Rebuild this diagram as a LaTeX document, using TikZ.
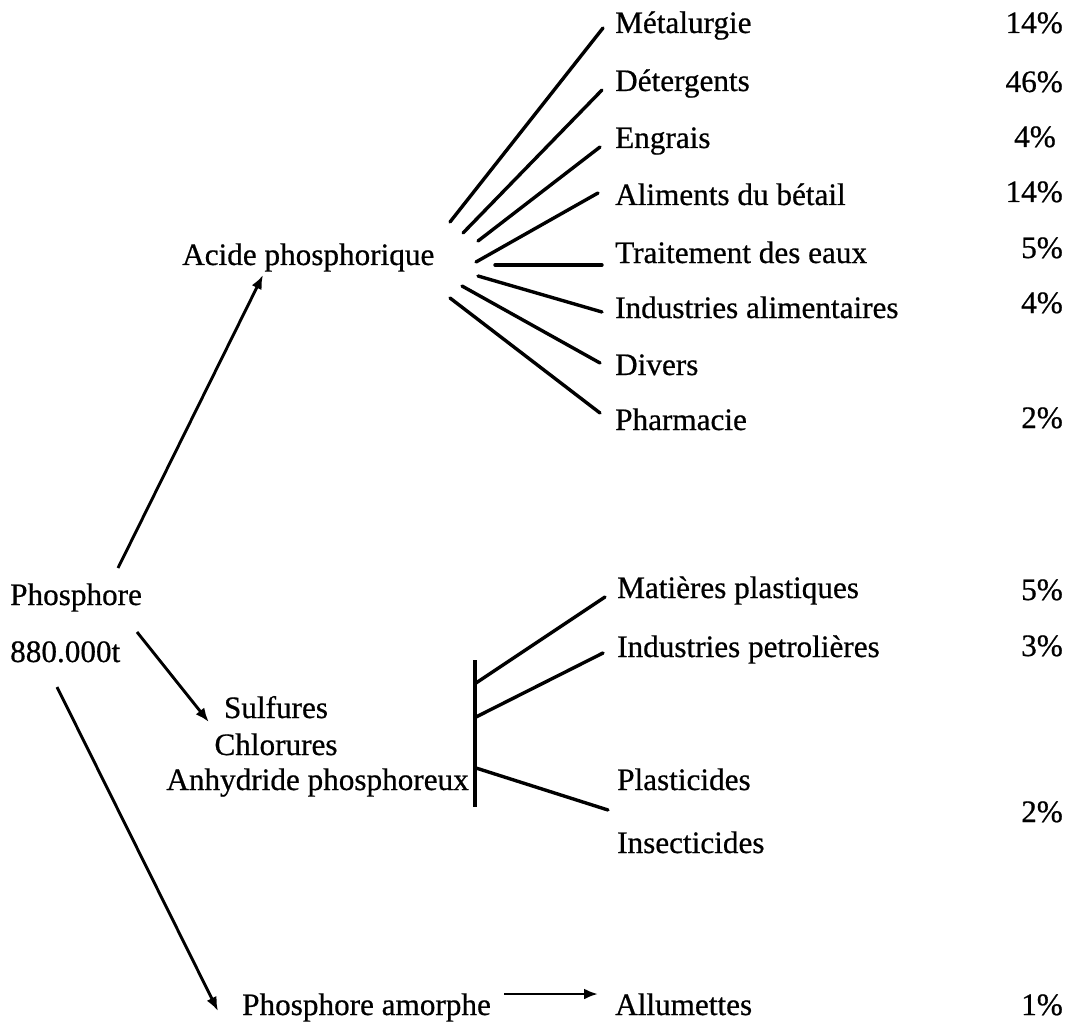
\documentclass[tikz,border=0pt]{standalone}
\usepackage{fontspec}
\setmainfont{Liberation Serif}[FakeBold=0.6]
\usetikzlibrary{arrows.meta,calc}
\begin{document}
\begin{tikzpicture}[x=1pt,y=-1pt,
  lbl/.style={inner sep=0pt, font=\fontsize{31.2}{36}\selectfont},
  ln/.style={line width=3.4pt, line cap=round},
  arr/.style={line width=2.9pt, -{Latex[length=14pt,width=11pt]}},
  pct/.style={lbl, anchor=base east}]
\useasboundingbox[fill=white] (0,0) rectangle (1083,1024);

% left column
\node[lbl,anchor=base west] (phos) at (10,605) {Phosphore};
\node[lbl,anchor=base west] (tons) at (10,662) {880.000t};

% upper branch
\node[lbl,anchor=base west] (acid) at (182,265) {Acide phosphorique};

\node[lbl,anchor=base west] (met) at (615,33) {Métalurgie};
\node[lbl,anchor=base west] (det) at (615,91) {Détergents};
\node[lbl,anchor=base west] (eng) at (615,148) {Engrais};
\node[lbl,anchor=base west] (ali) at (615,205) {Aliments du bétail};
\node[lbl,anchor=base west] (tra) at (615,263) {Traitement des eaux};
\node[lbl,anchor=base west] (ind) at (615,318) {Industries alimentaires};
\node[lbl,anchor=base west] (div) at (615,375) {Divers};
\node[lbl,anchor=base west] (pha) at (615,430) {Pharmacie};

\node[pct] (p1) at (1063,33) {14\%};
\node[pct] (p2) at (1063,92) {46\%};
\node[pct] (p3) at (1056,147) {4\%};
\node[pct] (p4) at (1063,202) {14\%};
\node[pct] (p5) at (1063,258) {5\%};
\node[pct] (p6) at (1063,313) {4\%};
\node[pct] (p7) at (1063,428) {2\%};

\coordinate (r1) at (450,222);
\coordinate (r2) at (463,233);
\coordinate (r3) at (478,241);
\coordinate (r4) at (476,262);
\coordinate (r5) at (495,265);
\coordinate (r6) at (478,276);
\coordinate (r7) at (462,286);
\coordinate (r8) at (450,298);

\draw[ln] (r1) -- ($(met.base west)+(-12,-5)$);
\draw[ln] (r2) -- ($(det.base west)+(-13,-1)$);
\draw[ln] (r3) -- ($(eng.base west)+(-15,-1)$);
\draw[ln] (r4) -- ($(ali.base west)+(-17,-12)$);
\draw[ln] (r5) -- ($(tra.base west)+(-13,2)$);
\draw[ln] (r6) -- ($(ind.base west)+(-13,-6)$);
\draw[ln] (r7) -- ($(div.base west)+(-15,-12)$);
\draw[ln] (r8) -- ($(pha.base west)+(-15,-17)$);

% middle branch
\node[lbl,anchor=base] (sul) at (276,718) {Sulfures};
\node[lbl,anchor=base] (chl) at (276,755) {Chlorures};
\node[lbl,anchor=base east] (anh) at (469,790) {Anhydride phosphoreux};

\coordinate (bt) at (475,660);
\coordinate (bb) at (475,807);
\draw[ln, line cap=butt] (bt) -- (bb);

\node[lbl,anchor=base west] (mat) at (617,598) {Matières plastiques};
\node[lbl,anchor=base west] (pet) at (617,657) {Industries petrolières};
\node[lbl,anchor=base west] (pla) at (617,790) {Plasticides};
\node[lbl,anchor=base west] (ins) at (617,853) {Insecticides};

\node[pct] (q1) at (1063,600) {5\%};
\node[pct] (q2) at (1063,656) {3\%};
\node[pct] (q3) at (1063,822) {2\%};

\coordinate (s1) at (476,683);
\coordinate (s2) at (476,717);
\coordinate (s3) at (476,768);
\draw[ln] (s1) -- ($(mat.base west)+(-12,-1)$);
\draw[ln] (s2) -- ($(pet.base west)+(-14,-4)$);
\draw[ln] (s3) -- ($(pla.base west)+(-9,20)$);

% bottom branch
\node[lbl,anchor=base west] (amo) at (242,1015) {Phosphore amorphe};
\node[lbl,anchor=base west] (all) at (615,1015) {Allumettes};
\node[pct] (q4) at (1063,1015) {1\%};

% arrows
\draw[arr] ($(phos.base west)+(108,-37)$) -- ($(acid.base west)+(81,10)$);
\draw[arr] ($(tons.base west)+(127,-30)$) -- ($(sul.base west)+(-15,4)$);
\draw[arr] ($(tons.base west)+(47,25)$) -- ($(amo.base west)+(-24,-4)$);
\draw[arr] ($(amo.base east)+(13,-21)$) -- ($(all.base west)+(-17,-21)$);
\end{tikzpicture}
\end{document}
